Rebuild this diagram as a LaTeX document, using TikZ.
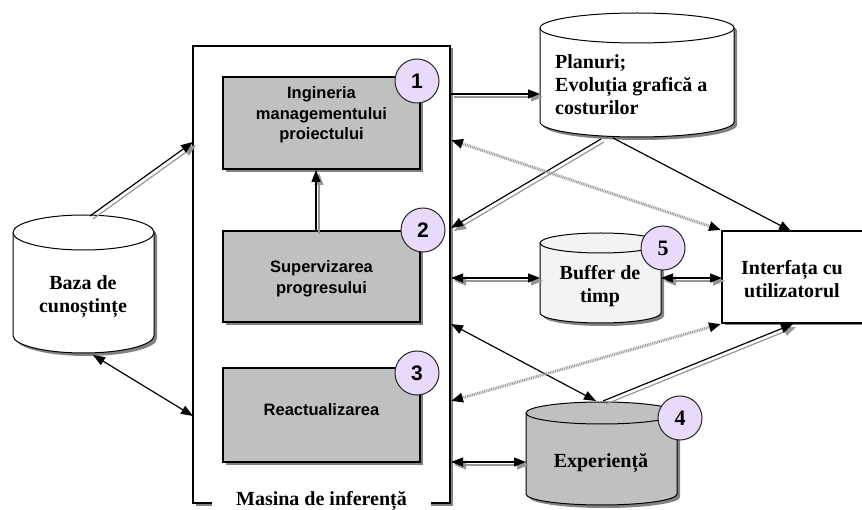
\documentclass[tikz,border=0pt]{standalone}
\usepackage{fontspec}
\setmainfont{Liberation Serif}
\setsansfont{Liberation Sans}
\usetikzlibrary{arrows.meta,shadows}

\definecolor{boxgray}{RGB}{192,192,192}
\definecolor{lavender}{RGB}{232,218,250}
\definecolor{shadowgray}{RGB}{130,130,130}
\definecolor{buffergray}{RGB}{243,243,243}
\definecolor{expgray}{RGB}{192,192,192}
\definecolor{linegray}{RGB}{150,150,150}

% cylinder: left, right, top, bottom, x radius, y radius, fill colour
\newcommand\drawcyl[7]{%
  \fill[shadowgray, shift={(3pt,-3pt)}]
    (#1,{#3+#6}) -- (#1,{#4-#6}) arc[start angle=180,end angle=360,x radius=#5pt,y radius=#6pt]
    -- (#2,{#3+#6}) arc[start angle=0,end angle=180,x radius=#5pt,y radius=#6pt] -- cycle;
  \filldraw[fill=#7, draw=black, line width=1pt]
    (#1,{#3+#6}) -- (#1,{#4-#6}) arc[start angle=180,end angle=360,x radius=#5pt,y radius=#6pt]
    -- (#2,{#3+#6}) arc[start angle=0,end angle=180,x radius=#5pt,y radius=#6pt] -- cycle;
  \draw[line width=1pt] (#1,{#3+#6}) arc[start angle=180,end angle=360,x radius=#5pt,y radius=#6pt];
}

% connector with a grey companion line beside it: tips, start, end
\newcommand\twinlink[3]{%
  \begin{scope}[transform canvas={shift={(3pt,-3pt)}}]
    \draw[link, draw=linegray, arrows={#1}] (#2) -- (#3);
  \end{scope}
  \draw[link, arrows={#1}] (#2) -- (#3);
}

\tikzset{
  tip/.tip={Triangle[length=12pt,width=9pt]},
  procbox/.style={draw=black, line width=1.3pt, fill=boxgray, inner sep=0pt, minimum width=197pt,
    drop shadow={shadow xshift=3pt, shadow yshift=-3pt, fill=shadowgray, opacity=1}},
  sanstext/.style={font=\sffamily\bfseries\fontsize{16.5}{20.5}\selectfont, align=center, inner sep=0pt},
  seriftext/.style={font=\bfseries\fontsize{20}{23}\selectfont, align=center, inner sep=0pt},
  numcircle/.style={circle, draw=black!85, line width=1pt, fill=lavender, minimum size=44pt, inner sep=0pt},
  link/.style={line width=1.2pt, draw=black},
  hatched/.style={draw=gray!75, line width=3pt, dash pattern=on 1pt off 0.8pt},
  blacktips/.style={arrows={tip[fill=black,color=black]-tip[fill=black,color=black]}},
}

\begin{document}
\begin{tikzpicture}[x=1pt, y=-1pt]
\useasboundingbox (0,0) rectangle (862,510);
\clip (0,0) rectangle (862,510);
\fill[white] (0,0) rectangle (862,510);

% inference engine frame
\node[draw=black, line width=1.5pt, fill=white, minimum width=257pt, minimum height=457pt, inner sep=0pt,
  drop shadow={shadow xshift=2.5pt, shadow yshift=-2.5pt, fill=shadowgray, opacity=1}]
  (engine) at (321.5,274.5) {};
\node[seriftext, fill=white, inner xsep=24pt, inner ysep=3pt, anchor=base] (enginelbl) at (321.5,505) {Masina de inferență};

% process boxes
\node[procbox, minimum height=92pt] (eng) at (321.5,123) {};
\node[sanstext] (engtxt) at (321.5,115) {Ingineria\\managementului\\proiectului};
\node[procbox, minimum height=91pt] (sup) at (321.5,276.5) {};
\node[sanstext] (suptxt) at (321.5,279) {Supervizarea\\progresului};
\node[procbox, minimum height=94pt] (upd) at (321.5,415) {};
\node[sanstext] (updtxt) at (321.5,410) {Reactualizarea};

% user interface box
\node[draw=black, line width=1.3pt, fill=white, minimum width=170pt, minimum height=92pt, inner sep=0pt,
  drop shadow={shadow xshift=2.5pt, shadow yshift=-2.5pt, fill=shadowgray, opacity=1}]
  (ui) at (807,277) {};
\node[seriftext] (uitxt) at (792,279) {Interfața cu\\utilizatorul};

% databases
\drawcyl{13}{154}{215}{353}{70.5}{17.5}{white}
\node[seriftext] (kb) at (83,297) {Baza de\\cunoștințe};
\drawcyl{540}{734}{13}{137}{97}{15}{white}
\node[seriftext, align=left, anchor=west] (plans) at (555,85) {Planuri;\\Evoluția grafică a\\costurilor};
\drawcyl{540}{661}{233}{323}{60.5}{10}{buffergray}
\node[seriftext] (buf) at (600,286) {Buffer de\\timp};
\drawcyl{526}{677}{402}{505}{75.5}{11}{expgray}
\node[seriftext] (exp) at (601,463) {Experiență};

% connector end points
\coordinate (a1s) at (90,216);   \coordinate (a1e) at (193,142);
\coordinate (a2s) at (93,355);   \coordinate (a2e) at (193,416);
\coordinate (a3s) at (451,94);   \coordinate (a3e) at (540,94);
\coordinate (a4s) at (316,231);  \coordinate (a4e) at (316,170);
\coordinate (a5s) at (601,139);  \coordinate (a5e) at (451,228);
\coordinate (a6s) at (451,140);  \coordinate (a6e) at (721,230);
\coordinate (a7s) at (613,138);  \coordinate (a7e) at (791,231);
\coordinate (a8s) at (451,278);  \coordinate (a8e) at (540,278);
\coordinate (a9s) at (661,278);  \coordinate (a9e) at (722,278);
\coordinate (a10s) at (451,324); \coordinate (a10e) at (596,401);
\coordinate (a11s) at (721,324); \coordinate (a11e) at (451,401);
\coordinate (a12s) at (603,401); \coordinate (a12e) at (793,324);
\coordinate (a13s) at (451,462); \coordinate (a13e) at (526,462);

% connectors
\twinlink{-tip}{a1s}{a1e}
\draw[link, tip-tip] (a2s) -- (a2e);
\twinlink{-tip}{a3s}{a3e}
\twinlink{-tip}{a4s}{a4e}
\twinlink{-tip}{a5s}{a5e}
\draw[hatched, blacktips] (a6s) -- (a6e);
\draw[link, -tip] (a7s) -- (a7e);
\twinlink{tip-tip}{a8s}{a8e}
\twinlink{tip-tip}{a9s}{a9e}
\draw[link, tip-tip] (a10s) -- (a10e);
\draw[hatched, blacktips] (a11s) -- (a11e);
\twinlink{-tip}{a12s}{a12e}
\twinlink{tip-tip}{a13s}{a13e}

% step numbers
\node[numcircle, font=\sffamily\bfseries\fontsize{21}{21}\selectfont] (n1) at (417,81) {1};
\node[numcircle, font=\sffamily\bfseries\fontsize{21}{21}\selectfont] (n2) at (423,230) {2};
\node[numcircle, font=\sffamily\bfseries\fontsize{21}{21}\selectfont] (n3) at (417,373) {3};
\node[numcircle, font=\bfseries\fontsize{22}{22}\selectfont] (n4) at (680,418) {4};
\node[numcircle, font=\bfseries\fontsize{22}{22}\selectfont] (n5) at (663,248) {5};
\end{tikzpicture}
\end{document}
